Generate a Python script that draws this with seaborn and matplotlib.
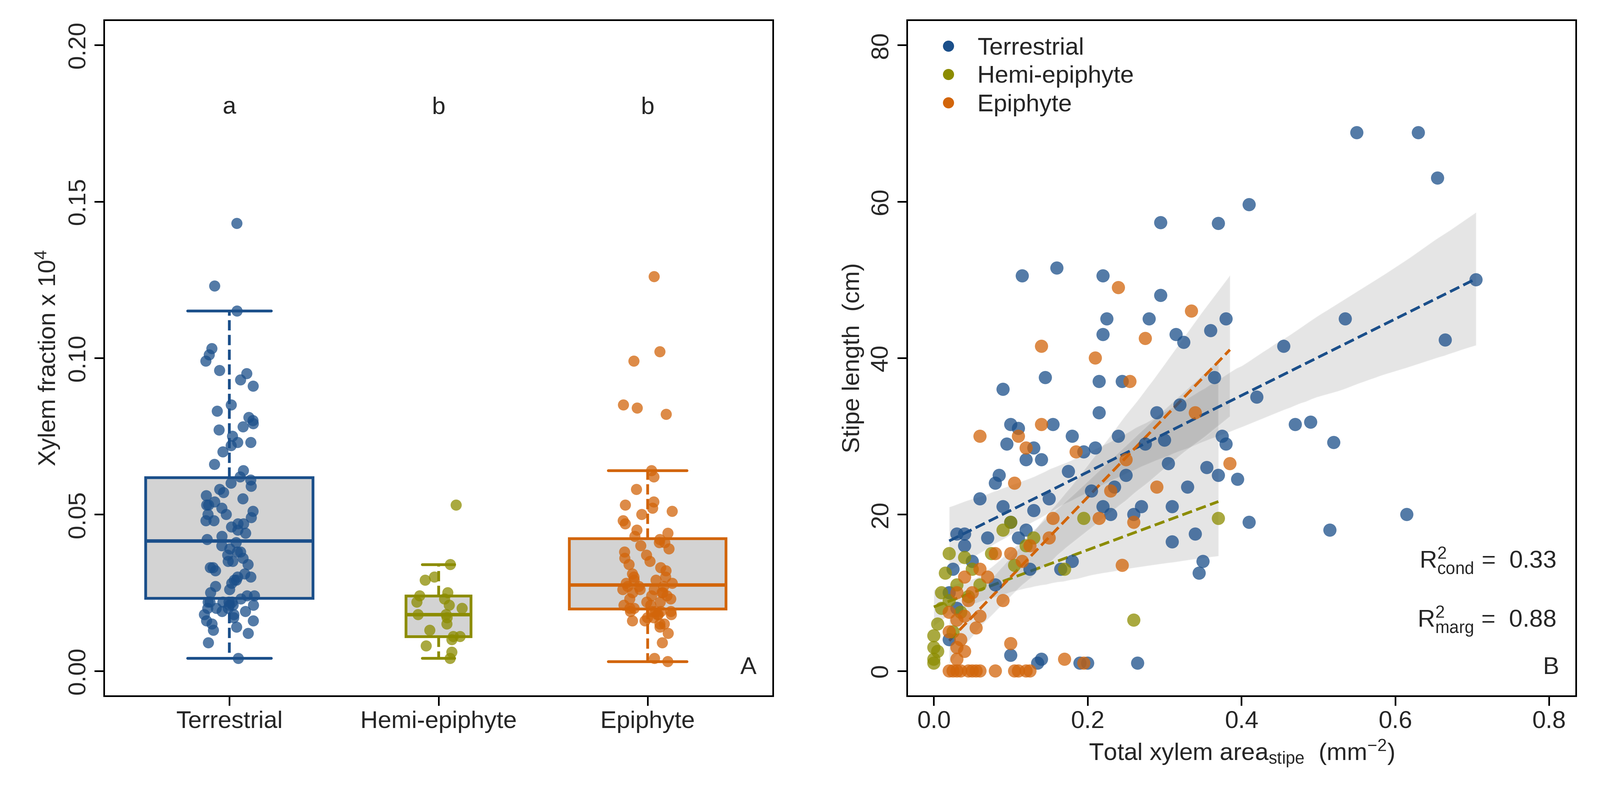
import numpy as np
import pandas as pd
import matplotlib.pyplot as plt
import matplotlib.lines as mlines
import seaborn as sns

groups = ['Terrestrial', 'Hemi-epiphyte', 'Epiphyte']
palette = {'Terrestrial': '#1b4f8a', 'Hemi-epiphyte': '#8c8c00', 'Epiphyte': '#d2650a'}

# panel A: xylem fraction x 10^4
terr_frac = [0.004, 0.009, 0.012, 0.013, 0.014, 0.015, 0.016, 0.016, 0.017, 0.018, 0.018, 0.019, 0.019, 0.020,
             0.020, 0.020, 0.021, 0.021, 0.021, 0.022, 0.022, 0.022, 0.022, 0.022,
             0.023, 0.024, 0.024, 0.025, 0.026, 0.027, 0.028, 0.029, 0.029, 0.030, 0.030, 0.031, 0.032, 0.033,
             0.033, 0.034, 0.035, 0.035, 0.036, 0.037, 0.038, 0.038, 0.039, 0.040,
             0.041, 0.042, 0.043, 0.044, 0.045, 0.046, 0.047, 0.047, 0.048, 0.048, 0.049, 0.050, 0.050, 0.051,
             0.052, 0.053, 0.053, 0.054, 0.055, 0.056, 0.057, 0.058, 0.059, 0.060,
             0.061, 0.062, 0.064, 0.066, 0.070, 0.072, 0.073, 0.073, 0.075, 0.077, 0.078, 0.079, 0.080, 0.081,
             0.083, 0.085, 0.091, 0.093, 0.095, 0.096, 0.099, 0.101, 0.103, 0.115, 0.123, 0.143]
hemi_frac = [0.004, 0.006, 0.008, 0.010, 0.011, 0.011, 0.013, 0.015, 0.017, 0.018, 0.018, 0.020, 0.021,
             0.022, 0.023, 0.024, 0.025, 0.029, 0.030, 0.034, 0.053]
epi_frac = [0.003, 0.004, 0.009, 0.012, 0.014, 0.015, 0.015, 0.016, 0.016, 0.017, 0.017, 0.018, 0.018, 0.018,
            0.019, 0.019, 0.019, 0.019, 0.019,
            0.020, 0.020, 0.021, 0.021, 0.022, 0.022, 0.023, 0.023, 0.024, 0.024, 0.025, 0.025, 0.025, 0.026,
            0.026, 0.026, 0.027, 0.027, 0.027,
            0.028, 0.028, 0.029, 0.029, 0.030, 0.030, 0.031, 0.032, 0.033, 0.034, 0.035, 0.036, 0.037, 0.038,
            0.039, 0.040, 0.041, 0.041, 0.042,
            0.043, 0.044, 0.045, 0.047, 0.048, 0.050, 0.051, 0.052, 0.053, 0.054, 0.058, 0.062, 0.064, 0.082,
            0.084, 0.085, 0.099, 0.102, 0.126]
sig_letters = ['a', 'b', 'b']

# panel B: total xylem area vs stipe length
terr_xy = [(0.02, 4), (0.02, 10), (0.025, 13), (0.03, 17.5), (0.03, 8), (0.04, 16), (0.04, 17.5), (0.05, 14),
           (0.06, 22), (0.07, 17), (0.08, 24), (0.08, 11), (0.085, 25), (0.09, 36), (0.09, 21), (0.095, 29),
           (0.10, 31.5), (0.10, 19), (0.10, 2), (0.11, 31), (0.11, 17), (0.115, 50.5), (0.12, 27), (0.12, 18),
           (0.125, 13), (0.13, 28.5), (0.13, 20.5), (0.135, 1), (0.14, 1.5), (0.14, 27), (0.145, 37.5),
           (0.15, 22), (0.155, 31.5), (0.16, 51.5), (0.165, 13), (0.175, 25.5), (0.18, 30), (0.18, 14),
           (0.19, 1), (0.195, 28), (0.20, 1), (0.205, 23), (0.21, 28.5), (0.215, 33), (0.215, 37),
           (0.22, 50.5), (0.22, 43), (0.22, 21), (0.225, 45), (0.23, 20), (0.235, 23.5), (0.24, 30),
           (0.245, 37), (0.25, 25), (0.26, 20), (0.265, 1), (0.27, 21), (0.275, 29), (0.28, 45), (0.29, 33),
           (0.295, 48), (0.295, 57.3), (0.30, 29.5), (0.305, 26.5), (0.31, 21), (0.31, 16.5), (0.315, 43),
           (0.32, 34), (0.325, 42), (0.33, 23.5), (0.34, 17.5), (0.345, 12.5), (0.35, 14), (0.355, 26),
           (0.36, 43.5), (0.365, 37.5), (0.37, 57.2), (0.37, 25), (0.375, 30), (0.38, 29), (0.38, 45),
           (0.395, 24.5), (0.41, 59.6), (0.41, 19), (0.42, 35), (0.455, 41.5), (0.47, 31.5), (0.49, 31.8),
           (0.515, 18), (0.52, 29.2), (0.535, 45), (0.55, 68.8), (0.615, 20), (0.63, 68.8), (0.655, 63),
           (0.665, 42.3), (0.705, 50)]
hemi_xy = [(0, 1), (0, 1.5), (0, 3), (0, 4.5), (0.005, 2.5), (0.005, 6), (0.01, 8), (0.01, 10), (0.015, 12.5),
           (0.02, 15), (0.02, 9), (0.025, 5), (0.03, 11), (0.035, 7.5), (0.04, 14.5), (0.045, 9.5), (0.05, 13),
           (0.06, 11), (0.075, 15), (0.09, 18), (0.1, 19), (0.105, 13.5), (0.12, 16), (0.13, 17), (0.17, 13),
           (0.195, 19.5), (0.26, 6.5), (0.37, 19.5)]
epi_xy = [(0.02, 0), (0.025, 0), (0.03, 0), (0.035, 0), (0.045, 0), (0.05, 0), (0.055, 0), (0.06, 0), (0.08, 0),
          (0.105, 0), (0.11, 0), (0.12, 0), (0.125, 0), (0.03, 1.5), (0.04, 2.5), (0.035, 4), (0.02, 5),
          (0.03, 6.5), (0.04, 7), (0.02, 7.5), (0.045, 9), (0.05, 10), (0.03, 10), (0.04, 12), (0.055, 5.5),
          (0.06, 13), (0.06, 30), (0.07, 12), (0.08, 15), (0.09, 9), (0.1, 15), (0.1, 3.5), (0.105, 24),
          (0.11, 30), (0.115, 14), (0.12, 28.5), (0.125, 16), (0.14, 31.5), (0.14, 41.5), (0.15, 17),
          (0.155, 19.5), (0.17, 1.5), (0.185, 28), (0.195, 1), (0.21, 40), (0.215, 19.5), (0.23, 23),
          (0.24, 49), (0.245, 13.5), (0.25, 27), (0.255, 37), (0.26, 19), (0.275, 42.5), (0.29, 23.5),
          (0.335, 46), (0.34, 33), (0.385, 26.5), (0.06, 7), (0.03, 3)]
r2_text = [r'$\mathregular{R^2_{cond}}$ =  0.33', r'$\mathregular{R^2_{marg}}$ =  0.88']

sns.set_theme(style='white')
plt.rcParams['font.family'] = ['Liberation Sans', 'DejaVu Sans']
plt.rcParams['mathtext.fontset'] = 'custom'
plt.rcParams['mathtext.rm'] = 'Liberation Sans'
plt.rcParams['mathtext.it'] = 'Liberation Sans'
fontSize = 17.5

fig, (ax1, ax2) = plt.subplots(1, 2, figsize=(16, 8), dpi=300)
fig.subplots_adjust(left=0.065, right=0.985, top=0.975, bottom=0.13, wspace=0.2)

# ---- panel A
dfA = pd.DataFrame({
    'group': ['Terrestrial'] * len(terr_frac) + ['Hemi-epiphyte'] * len(hemi_frac) + ['Epiphyte'] * len(epi_frac),
    'frac': terr_frac + hemi_frac + epi_frac})
widths = {'Terrestrial': 0.8, 'Hemi-epiphyte': 0.31, 'Epiphyte': 0.75}
for g in groups:
    sns.boxplot(data=dfA[dfA.group == g], x='group', y='frac', order=groups, width=widths[g],
                color='#d3d3d3', linecolor=palette[g], linewidth=2, showfliers=False, ax=ax1,
                whiskerprops={'linestyle': '--'}, capprops={'linestyle': '-'},
                medianprops={'linewidth': 2.5})
sns.stripplot(data=dfA, x='group', y='frac', order=groups, hue='group', palette=palette, jitter=0.12,
              size=8, alpha=0.75, legend=False, ax=ax1, zorder=5)
for i, l in enumerate(sig_letters):
    ax1.text(i, 0.18, l, ha='center', va='center', fontsize=fontSize)
ax1.text(0.975, 0.025, 'A', transform=ax1.transAxes, ha='right', va='bottom', fontsize=fontSize)
ax1.set_ylim(-0.008, 0.208)
ax1.set_xlim(-0.6, 2.6)
ax1.set_yticks([0, 0.05, 0.10, 0.15, 0.20])
ax1.set_yticklabels(['0.00', '0.05', '0.10', '0.15', '0.20'], rotation=90, va='center')
ax1.set_xlabel('')
ax1.set_ylabel(r'Xylem fraction x 10$^{\mathregular{4}}$', fontsize=fontSize)

# ---- panel B
for g, xy in zip(groups, [terr_xy, hemi_xy, epi_xy]):
    d = pd.DataFrame(xy, columns=['area', 'length'])
    sns.regplot(data=d, x='area', y='length', scatter=False, color='#555555', ci=95,
                line_kws={'alpha': 0}, ax=ax2)
for g, xy in zip(groups, [terr_xy, hemi_xy, epi_xy]):
    d = pd.DataFrame(xy, columns=['area', 'length'])
    sns.regplot(data=d, x='area', y='length', scatter=False, color=palette[g], ci=None,
                line_kws={'linestyle': '--', 'linewidth': 2}, ax=ax2)
for g, xy in zip(groups, [terr_xy, hemi_xy, epi_xy]):
    d = pd.DataFrame(xy, columns=['area', 'length'])
    sns.scatterplot(data=d, x='area', y='length', color=palette[g], s=90, alpha=0.75,
                    edgecolor='none', ax=ax2, zorder=4)
handles = [mlines.Line2D([], [], color=palette[g], marker='o', linestyle='', markersize=7, label=g)
           for g in groups]
ax2.legend(handles=handles, loc='upper left', frameon=False, fontsize=fontSize, handletextpad=0.2,
           borderaxespad=0.3, labelspacing=0.25)
ax2.text(0.97, 0.2, r2_text[0], transform=ax2.transAxes, ha='right', va='center', fontsize=fontSize)
ax2.text(0.97, 0.11, r2_text[1], transform=ax2.transAxes, ha='right', va='center', fontsize=fontSize)
ax2.text(0.975, 0.025, 'B', transform=ax2.transAxes, ha='right', va='bottom', fontsize=fontSize)
ax2.set_xlim(-0.035, 0.835)
ax2.set_ylim(-3.2, 83.2)
ax2.set_xticks([0, 0.2, 0.4, 0.6, 0.8])
ax2.set_xticklabels(['0.0', '0.2', '0.4', '0.6', '0.8'])
ax2.set_yticks([0, 20, 40, 60, 80])
ax2.set_yticklabels(['0', '20', '40', '60', '80'], rotation=90, va='center')
ax2.set_xlabel(r'Total xylem area$_{\mathregular{stipe}}$  (mm$^{\mathregular{-2}}$)', fontsize=fontSize)
ax2.set_ylabel('Stipe length  (cm)', fontsize=fontSize)

for ax in (ax1, ax2):
    for s in ax.spines.values():
        s.set_linewidth(1.2)
        s.set_color('black')
    ax.tick_params(direction='out', length=7, width=1.2, labelsize=fontSize, left=True, bottom=True,
                   color='black')

fig.savefig('out.png', dpi=300)
